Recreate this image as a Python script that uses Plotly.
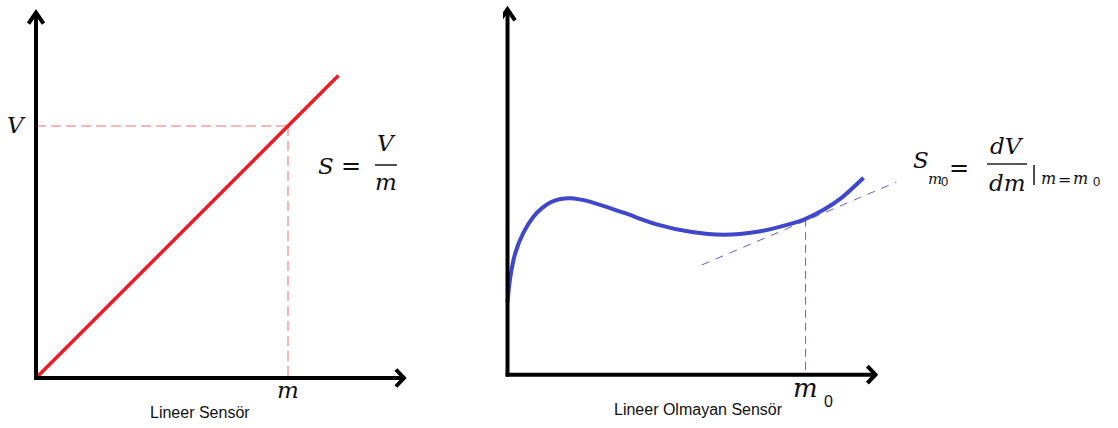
import plotly.graph_objects as go

# ---- data -------------------------------------------------------------
# linear sensor: output V grows proportionally with input m
lin_m = [0.0, 8.4]
lin_V = [0.0, 8.4]
m_point = 7.0
V_point = 7.0

# non-linear sensor response
nl_m = [0.0, 0.08, 0.22, 0.44, 0.72, 0.95, 1.2, 1.47, 1.75, 2.0, 2.31,
        3.22, 4.17, 5.08, 6.0, 6.94, 7.86, 8.28, 8.78, 9.25, 9.89]
nl_V = [2.0, 2.72, 3.39, 3.94, 4.39, 4.62, 4.79, 4.88, 4.9, 4.87, 4.8,
        4.5, 4.17, 3.97, 3.89, 3.97, 4.19, 4.33, 4.58, 4.89, 5.47]
m0 = 8.28
V_m0 = 4.33
tangent_m = [5.4, 10.8]
tangent_V = [3.05, 5.35]

AXIS_X_LEN = 10.22
AXIS_Y_LEN = 10.15

# ---- layout geometry --------------------------------------------------
W, H = 1118, 428
SCALE = 36.0                       # pixels per data unit
SPLIT = 0.45                       # paper x where the right panel starts
LEFT_ORIGIN = (36.0, 378.0)
RIGHT_ORIGIN = (507.5, 374.7)

RED = "#ed1c24"
BLUE = "#3f48cc"
RED_DASH = "rgba(237,28,36,0.65)"
BLUE_DASH = "rgba(63,72,204,0.85)"
MATH = dict(family="DejaVu Serif", color="#111", style="italic")
UPRIGHT = dict(family="DejaVu Serif", color="#111")
SANS = dict(family="Liberation Sans", color="#111")


def xrange_for(origin_px, left_px, right_px):
    return [(left_px - origin_px) / SCALE, (right_px - origin_px) / SCALE]


def yrange_for(origin_py):
    return [-(H - origin_py) / SCALE, origin_py / SCALE]


def P(xp, yp):
    return xp / W, 1 - yp / H


fig = go.Figure()

# left panel traces
fig.add_trace(go.Scatter(x=[0, m_point], y=[V_point, V_point], mode="lines",
                         line=dict(color=RED_DASH, width=1, dash="10px,5px"),
                         xaxis="x", yaxis="y"))
fig.add_trace(go.Scatter(x=[m_point, m_point], y=[V_point, 0], mode="lines",
                         line=dict(color=RED_DASH, width=1, dash="10px,5px"),
                         xaxis="x", yaxis="y"))
fig.add_trace(go.Scatter(x=lin_m, y=lin_V, mode="lines",
                         line=dict(color=RED, width=3.5),
                         xaxis="x", yaxis="y"))

# right panel traces
fig.add_trace(go.Scatter(x=tangent_m, y=tangent_V, mode="lines",
                         line=dict(color=BLUE_DASH, width=1, dash="8px,7px"),
                         xaxis="x2", yaxis="y2"))
fig.add_trace(go.Scatter(x=[m0, m0], y=[V_m0, 0], mode="lines",
                         line=dict(color=BLUE_DASH, width=1, dash="8px,5px"),
                         xaxis="x2", yaxis="y2"))
fig.add_trace(go.Scatter(x=nl_m, y=nl_V, mode="lines",
                         line=dict(color=BLUE, width=4, shape="spline",
                                   smoothing=1.0),
                         xaxis="x2", yaxis="y2"))

# axes with arrow heads
shapes = []
for xr, yr in (("x", "y"), ("x2", "y2")):
    shapes.append(dict(type="line", xref=xr, yref=yr, x0=0, y0=-0.05,
                       x1=0, y1=AXIS_Y_LEN, line=dict(color="black", width=4)))
    shapes.append(dict(type="line", xref=xr, yref=yr, x0=-0.05, y0=0,
                       x1=AXIS_X_LEN, y1=0, line=dict(color="black", width=4)))
    shapes.append(dict(type="path", xref=xr, yref=yr, xsizemode="pixel",
                       ysizemode="pixel", xanchor=0, yanchor=AXIS_Y_LEN,
                       path="M-7.5,-11 L0,0 L7.5,-11",
                       line=dict(color="black", width=4)))
    shapes.append(dict(type="path", xref=xr, yref=yr, xsizemode="pixel",
                       ysizemode="pixel", xanchor=AXIS_X_LEN, yanchor=0,
                       path="M-8,8.5 L0,0 L-8,-8.5",
                       line=dict(color="black", width=4)))

# fraction bars and evaluation bar of the formulas
for (xa, ya), (xb, yb) in (((375, 165), (397, 165)),
                           ((987, 164), (1027, 164)),
                           ((1034, 165), (1034, 185))):
    x0, y0 = P(xa, ya)
    x1, y1 = P(xb, yb)
    shapes.append(dict(type="line", xref="paper", yref="paper", x0=x0, y0=y0,
                       x1=x1, y1=y1, line=dict(color="#222", width=1.6)))

annotations = []


def text(t, xp, yp, size, font, xanchor="center"):
    x, y = P(xp, yp)
    annotations.append(dict(text=t, x=x, y=y, xref="paper", yref="paper",
                            showarrow=False, xanchor=xanchor, yanchor="middle",
                            font=dict(size=size, **font)))


# left panel labels
text("V", 16, 125, 23, MATH)
text("m", 288, 390, 23, MATH)
text("S", 326, 166, 23, MATH)
text("=", 351, 166, 24, UPRIGHT)
text("V", 386, 143, 23, MATH)
text("m", 386, 182, 23, MATH)
text("Lineer Sensör", 199.5, 412, 16, SANS)

# right panel labels
text("m", 806, 388, 26, MATH)
text("0", 828.5, 401, 16, SANS)
text("Lineer Olmayan Sensör", 698.5, 409, 16, SANS)

# S_m0 = dV/dm |_(m = m0)
text("S", 921, 160, 23, MATH)
text("m", 935, 179, 15, MATH)
text("0", 944.5, 181, 13, SANS)
text("=", 959, 168, 24, UPRIGHT)
text("dV", 1007, 146, 23, MATH)
text("dm", 1007, 183, 23, MATH)
text("m", 1048, 178, 16, MATH)
text("=", 1064, 179, 16, UPRIGHT)
text("m", 1080, 178, 16, MATH)
text("0", 1096, 181, 13, SANS)

fig.update_layout(
    width=W, height=H,
    margin=dict(l=0, r=0, t=0, b=0),
    paper_bgcolor="white", plot_bgcolor="white",
    showlegend=False,
    xaxis=dict(domain=[0, SPLIT], visible=False, fixedrange=True,
               range=xrange_for(LEFT_ORIGIN[0], 0, SPLIT * W)),
    yaxis=dict(domain=[0, 1], visible=False, anchor="x", fixedrange=True,
               range=yrange_for(LEFT_ORIGIN[1])),
    xaxis2=dict(domain=[SPLIT, 1], visible=False, anchor="y2",
                fixedrange=True,
                range=xrange_for(RIGHT_ORIGIN[0], SPLIT * W, W)),
    yaxis2=dict(domain=[0, 1], visible=False, anchor="x2", fixedrange=True,
                range=yrange_for(RIGHT_ORIGIN[1])),
    shapes=shapes,
    annotations=annotations,
)

fig.write_html("out.html", config=dict(displayModeBar=False))
